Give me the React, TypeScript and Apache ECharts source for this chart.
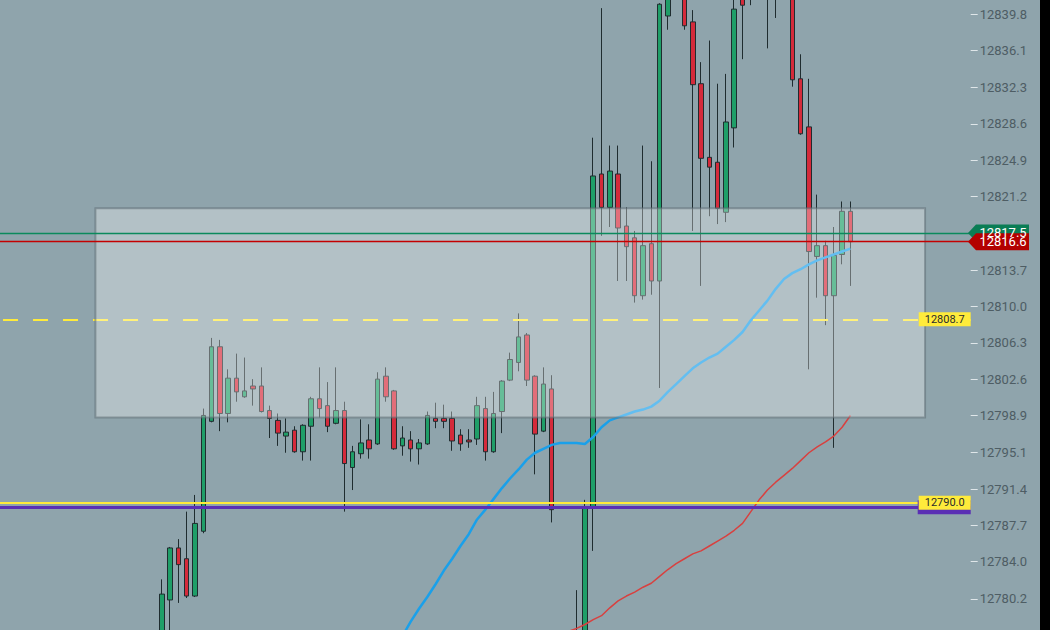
import React, { useEffect, useRef } from "react";
import * as echarts from "echarts";

// ---- data ----
const openPrices = [
  12776.0, 12780.1, 12785.4, 12784.3, 12780.5, 12787.1, 12798.3, 12805.9, 12799.1, 12802.7,
  12800.8, 12801.9, 12801.9, 12799.4, 12798.4, 12796.8, 12797.4, 12795.2, 12797.8, 12800.6,
  12799.9, 12798.1, 12799.4, 12793.6, 12795.0, 12796.4, 12796.0, 12802.9, 12801.4, 12795.8,
  12796.4, 12795.5, 12796.0, 12798.6, 12798.6, 12798.6, 12796.9, 12796.4, 12796.5, 12799.6,
  12795.2, 12799.3, 12802.5, 12804.3, 12807.1, 12802.9, 12797.3, 12801.6, 12775.5, 12773.2,
  12772.6, 12775.9, 12789.6, 12823.5, 12820.1, 12823.5, 12818.2, 12817.0, 12811.1, 12816.4,
  12812.6, 12839.6, 12843.8, 12846.5, 12839.0, 12832.7, 12825.2, 12824.7, 12819.6, 12828.2,
  12844.0, 12843.5, 12845.2, 12844.2, 12845.0, 12842.6, 12844.5, 12833.2, 12828.3, 12815.1,
  12816.2, 12811.1, 12815.3, 12819.7,
];
const closePrices = [
  12780.7, 12785.4, 12783.7, 12780.5, 12787.9, 12798.9, 12805.9, 12799.1, 12802.7, 12801.3,
  12801.4, 12801.6, 12799.3, 12798.6, 12797.1, 12797.2, 12795.2, 12797.9, 12800.6, 12799.6,
  12797.8, 12799.4, 12794.0, 12795.2, 12796.1, 12795.5, 12802.6, 12800.8, 12795.5, 12796.6,
  12795.5, 12796.1, 12798.9, 12798.3, 12798.3, 12796.3, 12796.0, 12796.2, 12799.9, 12795.2,
  12799.1, 12802.4, 12804.6, 12806.9, 12802.5, 12797.0, 12802.1, 12789.3, 12773.0, 12772.4,
  12775.8, 12789.6, 12823.3, 12820.1, 12823.8, 12818.0, 12816.1, 12811.1, 12816.2, 12812.6,
  12840.8, 12843.5, 12846.0, 12838.6, 12832.6, 12825.1, 12824.2, 12820.0, 12828.8, 12840.3,
  12840.7, 12845.0, 12843.9, 12845.5, 12842.8, 12844.4, 12833.1, 12827.6, 12815.6, 12816.2,
  12811.1, 12815.2, 12819.7, 12816.6,
];
const lowPrices = [
  12774.8, 12775.5, 12779.8, 12780.3, 12780.4, 12786.9, 12798.2, 12797.3, 12798.2, 12800.3,
  12800.7, 12799.9, 12799.2, 12796.6, 12795.8, 12795.1, 12795.1, 12794.3, 12794.3, 12798.7,
  12797.2, 12798.0, 12789.1, 12791.3, 12794.5, 12794.5, 12795.9, 12800.3, 12795.4, 12794.8,
  12794.2, 12793.9, 12795.9, 12797.6, 12797.6, 12795.3, 12795.3, 12795.6, 12795.9, 12794.3,
  12795.1, 12797.1, 12802.4, 12803.4, 12801.9, 12792.9, 12797.2, 12788.0, 12772.0, 12771.0,
  12771.5, 12775.0, 12785.1, 12817.2, 12818.1, 12812.6, 12812.6, 12810.4, 12810.7, 12811.2,
  12801.7, 12838.2, 12842.0, 12838.2, 12817.7, 12812.1, 12819.2, 12818.4, 12818.6, 12826.2,
  12835.2, 12840.7, 12842.0, 12836.3, 12839.4, 12841.8, 12832.4, 12827.5, 12803.6, 12810.9,
  12808.1, 12795.6, 12814.3, 12812.1,
];
const highPrices = [
  12782.2, 12785.5, 12786.3, 12789.1, 12790.8, 12799.6, 12806.8, 12806.6, 12803.6, 12805.2,
  12804.8, 12802.6, 12803.8, 12799.9, 12799.1, 12798.6, 12797.8, 12798.0, 12800.8, 12803.8,
  12802.3, 12803.8, 12800.3, 12795.8, 12798.5, 12798.0, 12803.3, 12803.8, 12801.5, 12797.8,
  12797.3, 12796.5, 12799.3, 12800.2, 12800.0, 12799.3, 12797.5, 12797.5, 12800.8, 12800.8,
  12801.3, 12802.5, 12805.3, 12809.3, 12807.3, 12803.0, 12803.8, 12803.0, 12776.2, 12775.8,
  12781.1, 12790.3, 12827.2, 12840.4, 12826.4, 12826.4, 12820.1, 12817.7, 12826.4, 12824.8,
  12840.9, 12845.0, 12847.2, 12847.5, 12840.2, 12834.9, 12837.1, 12832.7, 12833.7, 12842.5,
  12845.5, 12847.0, 12848.0, 12847.8, 12846.9, 12845.9, 12846.0, 12835.7, 12833.2, 12821.4,
  12816.7, 12818.1, 12820.7, 12820.7,
];
// moving averages (null where the line is not drawn)
const maFast = [
  null, null, null, null, null, null, null, null, null, null,
  null, null, null, null, null, null, null, null, null, null,
  null, null, null, null, null, null, null, null, 12775.2, 12776.4,
  12777.9, 12779.2, 12780.4, 12781.7, 12783.1, 12784.3, 12785.6, 12786.8, 12788.3, 12789.3,
  12790.4, 12791.5, 12792.5, 12793.4, 12794.4, 12795.1, 12795.5, 12795.9, 12796.1, 12796.1,
  12796.1, 12796.0, 12796.7, 12797.7, 12798.4, 12798.7, 12799.0, 12799.3, 12799.5, 12799.8,
  12800.4, 12801.3, 12802.1, 12802.9, 12803.7, 12804.3, 12804.8, 12805.2, 12805.9, 12806.6,
  12807.4, 12808.6, 12809.6, 12810.6, 12811.8, 12812.8, 12813.4, 12813.8, 12814.3, 12814.7,
  12815.0, 12815.3, 12815.6, 12815.9,
];
const maSlow = [
  null, null, null, null, null, null, null, null, null, null,
  null, null, null, null, null, null, null, null, null, null,
  null, null, null, null, null, null, null, null, null, null,
  null, null, null, null, null, null, null, null, null, null,
  null, null, null, null, null, null, null, null, 12776.6, 12776.9,
  12777.2, 12777.6, 12778.1, 12778.5, 12779.3, 12780.0, 12780.5, 12780.9, 12781.4, 12781.8,
  12782.5, 12783.2, 12783.8, 12784.3, 12784.8, 12785.1, 12785.6, 12786.1, 12786.6, 12787.2,
  12787.9, 12789.1, 12790.3, 12791.3, 12792.1, 12792.8, 12793.5, 12794.3, 12795.1, 12795.7,
  12796.2, 12796.8, 12797.7, 12798.9,
];
const yTickLabels = [
  12780.2, 12784.0, 12787.7, 12791.4, 12795.1, 12798.9, 12802.6, 12806.3, 12810.0, 12813.7,
  12821.2, 12824.9, 12828.6, 12832.3, 12836.1, 12839.8,
];
const LEAD_SLOTS = 19;
const TRAIL_SLOTS = 14;
const zoneTop = 12820.0;
const zoneBottom = 12798.7;
const zoneStartSlot = 11;
const zoneEndSlot = 111;
const dashedLevel = 12808.7;
const supportLevel = 12790.0;
const purpleLevel = 12789.55;
const askPrice = 12817.5;
const lastPrice = 12816.6;
const yMin = 12777.04;
const yMax = 12841.23;

const BG = "#8fa4ac";
const GREEN = "#1f9e68";
const RED = "#d42a3a";
const EDGE = "#1f2c2f";
const YELLOW = "#ffeb3b";
const PURPLE = "#5a2fb4";
const ASK_GREEN = "#0a8a5c";
const LAST_RED = "#c40000";
const CLEAR = "rgba(0,0,0,0)";

function pad<T>(arr: T[]): (T | "-")[] {
  const out: (T | "-")[] = [];
  for (let i = 0; i < LEAD_SLOTS; i++) out.push("-");
  arr.forEach((v) => out.push(v == null ? "-" : v));
  for (let i = 0; i < TRAIL_SLOTS; i++) out.push("-");
  return out;
}

const tagLabel = (bg: string, text: boolean) => ({
  show: true,
  position: "insideEnd",
  distance: 0,
  formatter: text ? (p: any) => Number(p.value).toFixed(1) : " ",
  color: "#2b2b2b",
  fontSize: 11,
  fontFamily: "Roboto",
  lineHeight: 12,
  width: text ? undefined : 41,
  height: text ? undefined : 12,
  backgroundColor: bg,
  padding: [1, 6, 1, 6],
});

export default function App() {
  const ref = useRef<HTMLDivElement>(null);

  useEffect(() => {
    if (!ref.current) return;
    const chart = echarts.init(ref.current, null, { renderer: "svg" });
    const total = LEAD_SLOTS + openPrices.length + TRAIL_SLOTS;
    const categories = Array.from({ length: total }, (_, i) => String(i));
    const candles = pad(
      openPrices.map((o, i) => [o, closePrices[i], lowPrices[i], highPrices[i]])
    );

    const option: any = {
      animation: false,
      backgroundColor: BG,
      grid: { left: -1, right: 69.3, top: 0, bottom: 0, containLabel: false },
      xAxis: {
        type: "category",
        data: categories,
        show: false,
        boundaryGap: true,
      },
      yAxis: {
        type: "value",
        position: "right",
        min: yMin,
        max: yMax,
        scale: true,
        splitLine: { show: false },
        axisLine: { show: false },
        axisTick: {
          show: true,
          length: 7,
          customValues: yTickLabels,
          lineStyle: { color: "#dfe6e9", width: 1 },
        },
        axisLabel: {
          customValues: yTickLabels,
          formatter: (v: number) => v.toFixed(1),
          color: "#4e5d64",
          fontSize: 13,
          fontFamily: "Roboto",
          margin: 9,
        },
      },
      series: [
        {
          type: "candlestick",
          data: candles,
          barWidth: 5,
          z: 2,
          itemStyle: {
            color: GREEN,
            color0: RED,
            borderColor: EDGE,
            borderColor0: EDGE,
            borderWidth: 1,
          },
          markArea: {
            silent: true,
            z: 10,
            itemStyle: {
              color: "rgba(255,255,255,0.32)",
              borderColor: "rgba(95,110,117,0.55)",
              borderWidth: 2,
            },
            data: [
              [
                { xAxis: zoneStartSlot, yAxis: zoneTop },
                { xAxis: zoneEndSlot, yAxis: zoneBottom },
              ],
            ],
          },
          markLine: {
            silent: true,
            z: 5,
            symbol: ["none", "none"],
            label: { show: false },
            data: [
              {
                yAxis: dashedLevel,
                lineStyle: { color: YELLOW, width: 2, type: [15, 15], dashOffset: 26.7 },
              },
              { yAxis: purpleLevel, lineStyle: { color: PURPLE, width: 3, type: "solid" } },
              { yAxis: supportLevel, lineStyle: { color: YELLOW, width: 2, type: "solid" } },
            ],
          },
        },
        {
          type: "line",
          data: pad(maSlow),
          showSymbol: false,
          symbol: "none",
          z: 3,
          lineStyle: { color: "#d8403f", width: 1.5 },
        },
        {
          type: "line",
          data: pad(maFast),
          showSymbol: false,
          symbol: "none",
          z: 3,
          lineStyle: { color: "#1aa0ea", width: 2.5 },
          markLine: {
            silent: true,
            z: 12,
            symbol: ["none", "none"],
            data: [
              {
                yAxis: purpleLevel,
                label: tagLabel(PURPLE, false),
                lineStyle: { color: CLEAR, width: 0 },
              },
              {
                yAxis: supportLevel,
                label: tagLabel(YELLOW, true),
                lineStyle: { color: CLEAR, width: 0 },
              },
              {
                yAxis: dashedLevel,
                label: tagLabel(YELLOW, true),
                lineStyle: { color: CLEAR, width: 0 },
              },
            ],
          },
        },
        {
          type: "line",
          name: "price lines",
          data: [],
          z: 4,
          markLine: {
            silent: true,
            z: 13,
            symbol: ["none", "none"],
            label: { show: false },
            data: [
              { yAxis: askPrice, lineStyle: { color: ASK_GREEN, width: 1.4, type: "solid" } },
              { yAxis: lastPrice, lineStyle: { color: LAST_RED, width: 1.4, type: "solid" } },
            ],
          },
        },
      ],
    };
    chart.setOption(option);

    const tag = (price: number, color: string) => {
      const y = chart.convertToPixel({ yAxisIndex: 0 }, price) as number;
      const h = 8.5;
      return [
        {
          type: "polygon",
          z: 100,
          shape: {
            points: [
              [968, y],
              [976, y - h],
              [1029, y - h],
              [1029, y + h],
              [976, y + h],
            ],
          },
          style: { fill: color },
        },
        {
          type: "text",
          z: 101,
          x: 1003,
          y: y,
          style: {
            text: price.toFixed(1),
            fill: "#ffffff",
            font: "13px Roboto",
            align: "center",
            verticalAlign: "middle",
            textAlign: "center",
            textVerticalAlign: "middle",
          },
        },
      ];
    };
    chart.setOption({
      graphic: [...tag(askPrice, "#0a7d55"), ...tag(lastPrice, "#b30000")],
    });

    return () => chart.dispose();
  }, []);

  return (
    <div
      style={{
        position: "fixed",
        left: 0,
        top: 0,
        width: 1050,
        height: 630,
        background: "#000",
      }}
    >
      <div ref={ref} style={{ width: 1040, height: 630 }} />
    </div>
  );
}
